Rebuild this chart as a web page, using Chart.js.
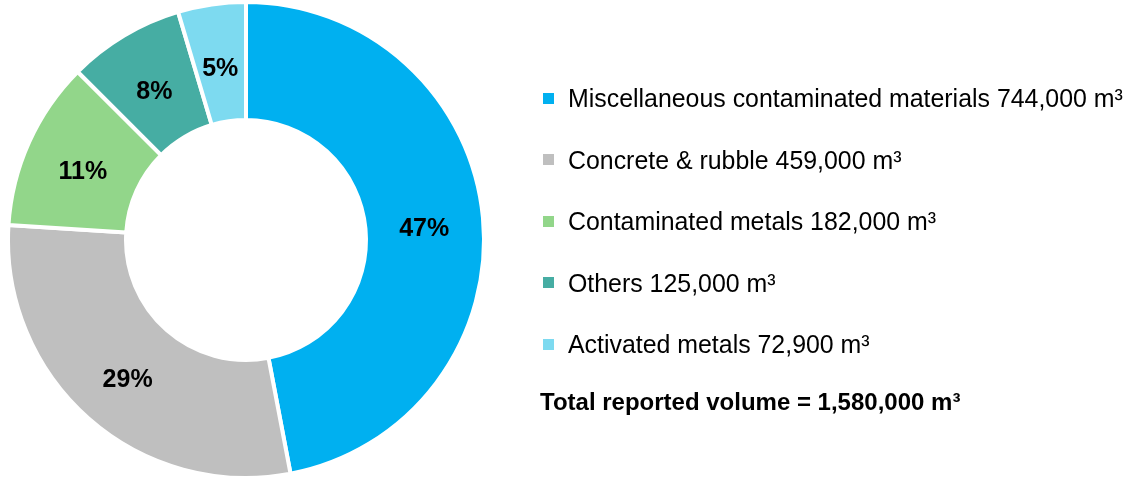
<!DOCTYPE html>
<html>
<head>
<meta charset="utf-8">
<script src="https://cdn.jsdelivr.net/npm/chart.js@4/dist/chart.umd.min.js"></script>
<style>
  html, body { margin: 0; padding: 0; background: #ffffff; }
  #wrap { position: relative; width: 1131px; height: 480px; overflow: hidden; }
  #chart { position: absolute; left: 0; top: 0; }
  .leg { position: absolute; left: 543px; height: 30px; display: flex; align-items: center; font-family: "Liberation Sans", Arial, sans-serif; font-size: 24.9px; color: #000; white-space: nowrap; line-height: 30px; }
  .leg .sw { display: inline-block; width: 11px; height: 11px; margin-right: 14px; flex: none; }
  #total { position: absolute; left: 540px; height: 30px; font-family: "Liberation Sans", Arial, sans-serif; font-weight: bold; font-size: 24px; color: #000; white-space: nowrap; line-height: 30px; }
</style>
</head>
<body>
<div id="wrap">
  <canvas id="chart" width="1131" height="480"></canvas>
</div>
<script>
const categories = ["Miscellaneous contaminated materials", "Concrete & rubble", "Contaminated metals", "Others", "Activated metals"];
const volumes = [744000, 459000, 182000, 125000, 72900];
const volumeLabels = ["744,000", "459,000", "182,000", "125,000", "72,900"];
const colors = ["#00B0F0", "#BFBFBF", "#92D68A", "#46ADA3", "#7DDAF0"];
const totalLabel = "Total reported volume = 1,580,000 m³";

const wrap = document.getElementById('wrap');
const rowCenters = [98, 159.5, 221, 282.5, 344];
categories.forEach((c, i) => {
  const d = document.createElement('div');
  d.className = 'leg';
  d.style.top = (rowCenters[i] - 15) + 'px';
  d.innerHTML = '<span class="sw" style="background:' + colors[i] + '"></span><span>' + c + ' ' + volumeLabels[i] + ' m³</span>';
  wrap.appendChild(d);
});
const t = document.createElement('div');
t.id = 'total';
t.style.top = (402 - 15) + 'px';
t.textContent = totalLabel;
wrap.appendChild(t);

const pctLabels = {
  id: 'pctLabels',
  afterDatasetsDraw(chart) {
    const ctx = chart.ctx;
    const meta = chart.getDatasetMeta(0);
    const data = chart.data.datasets[0].data;
    const sum = data.reduce((a, b) => a + b, 0);
    ctx.save();
    ctx.font = 'bold 25px "Liberation Sans", Arial, sans-serif';
    ctx.fillStyle = '#000';
    ctx.textAlign = 'center';
    ctx.textBaseline = 'middle';
    meta.data.forEach((arc, i) => {
      const p = arc.tooltipPosition();
      ctx.fillText(Math.round(data[i] / sum * 100) + '%', p.x, p.y + 6);
    });
    ctx.restore();
  }
};

new Chart(document.getElementById('chart'), {
  type: 'doughnut',
  data: {
    labels: categories,
    datasets: [{
      data: volumes,
      backgroundColor: colors,
      borderColor: '#ffffff',
      borderWidth: 4,
      hoverOffset: 0
    }]
  },
  options: {
    responsive: false,
    animation: false,
    cutout: 120,
    layout: { padding: { left: 6, right: 645, top: 0, bottom: 0 } },
    plugins: { legend: { display: false }, tooltip: { enabled: false } }
  },
  plugins: [pctLabels]
});
</script>
</body>
</html>
